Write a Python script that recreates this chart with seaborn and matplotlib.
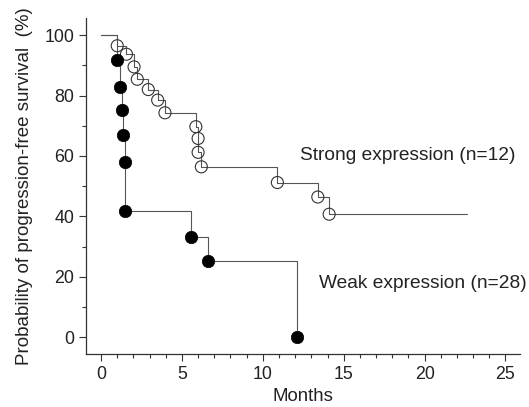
import matplotlib
matplotlib.use("Agg")
import matplotlib.pyplot as plt
import seaborn as sns
import pandas as pd
from matplotlib.ticker import MultipleLocator

# Kaplan-Meier style curves
strong_months = [0, 1.0, 1.57, 2.04, 2.24, 2.92, 3.5, 3.95, 5.86, 6.0, 6.0, 6.2, 10.9, 13.4, 14.1, 22.6]
strong_surv = [100, 96.5, 93.7, 89.5, 85.4, 82.0, 78.5, 74.3, 69.7, 65.8, 61.2, 56.4, 51.2, 46.4, 40.7, 40.7]
weak_months = [0, 0.97, 1.17, 1.28, 1.38, 1.48, 1.48, 5.56, 6.59, 12.1]
weak_surv = [100, 91.7, 82.9, 75.2, 66.9, 58.0, 41.8, 33.2, 25.3, 0]

x_ticks = [0, 5, 10, 15, 20, 25]
y_ticks = [0, 20, 40, 60, 80, 100]

strong = pd.DataFrame({"months": strong_months, "surv": strong_surv})
weak = pd.DataFrame({"months": weak_months, "surv": weak_surv})

sns.set_style("ticks")
plt.rcParams["font.family"] = ["Liberation Sans", "DejaVu Sans"]

fig = plt.figure(figsize=(5.29, 4.07), dpi=100)
ax = fig.add_axes([0.1626, 0.1302, 0.8204, 0.8256])

line_kw = dict(x="months", y="surv", estimator=None, sort=False,
               drawstyle="steps-post", color="#555555", linewidth=0.8, ax=ax)
sns.lineplot(data=strong, **line_kw)
sns.lineplot(data=weak, **line_kw)

sns.scatterplot(data=strong.iloc[1:-1], x="months", y="surv", marker="o",
                s=75, facecolor="none", edgecolor="#333333", linewidth=0.8,
                zorder=3, ax=ax)
sns.scatterplot(data=weak.iloc[1:], x="months", y="surv", marker="o",
                s=80, color="black", edgecolor="black", linewidth=0.5,
                zorder=3, ax=ax)

ax.text(12.28, 60.3, "Strong expression (n=12)", fontsize=13.8,
        va="center", ha="left", color="#222222")
ax.text(13.5, 17.9, "Weak expression (n=28)", fontsize=13.8,
        va="center", ha="left", color="#222222")

ax.set_xlim(-0.93, 25.9)
ax.set_ylim(-5.6, 105.7)
ax.set_xticks(x_ticks)
ax.set_yticks(y_ticks)
ax.xaxis.set_minor_locator(MultipleLocator(1))
ax.yaxis.set_minor_locator(MultipleLocator(10))
ax.tick_params(which="major", length=5, width=0.8, labelsize=12.8,
               color="#333333", labelcolor="#222222")
ax.tick_params(which="minor", length=3, width=0.8, color="#333333")
ax.set_xlabel("Months", fontsize=13.4, color="#222222", labelpad=4)
ax.set_ylabel("Probability of progression-free survival  (%)", fontsize=13.5,
              color="#222222", labelpad=8)
for side in ("left", "bottom"):
    ax.spines[side].set_color("#333333")
    ax.spines[side].set_linewidth(0.9)
sns.despine(ax=ax)

fig.savefig("out.png", dpi=100)
